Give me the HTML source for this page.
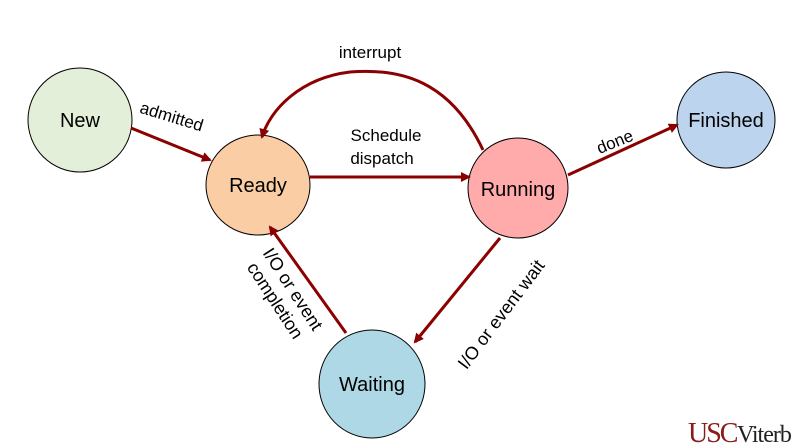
<!DOCTYPE html>
<html><head><style>
html,body{margin:0;padding:0;background:#fff;}
svg{display:block;font-family:"Liberation Sans",Arial,sans-serif;}
</style></head><body>
<svg width="801" height="446" viewBox="0 0 801 446" xmlns="http://www.w3.org/2000/svg">
<defs>
<marker id="a" markerWidth="10" markerHeight="10" refX="8" refY="5" orient="auto" markerUnits="userSpaceOnUse">
<path d="M0,0 L10,5 L0,10 Z" fill="#8b0000"/>
</marker>
</defs>
<g stroke="#000" stroke-width="1">
<ellipse cx="80" cy="120" rx="52" ry="52" fill="#e3efd9"/>
<ellipse cx="258" cy="185" rx="52" ry="50" fill="#fbcda5"/>
<ellipse cx="518" cy="188" rx="50" ry="50" fill="#ffaaab"/>
<ellipse cx="726" cy="120" rx="49" ry="48" fill="#bdd4ef"/>
<ellipse cx="372" cy="384" rx="53" ry="54" fill="#aed8e6"/>
</g>
<g stroke="#8b0000" stroke-width="3" fill="none" marker-end="url(#a)">
<line x1="131" y1="128" x2="210" y2="160"/>
<line x1="310" y1="177" x2="469" y2="177"/>
<line x1="568" y1="175" x2="677" y2="125"/>
<line x1="500" y1="238" x2="415" y2="342"/>
<line x1="346" y1="333" x2="270" y2="227"/>
<path d="M483,150 C450,80 400,68 350,72 C300,78 270,110 262,137"/>
</g>
<g font-size="20" text-anchor="middle" fill="#000">
<text x="80" y="127">New</text>
<text x="258" y="192">Ready</text>
<text x="518" y="196">Running</text>
<text x="726" y="127">Finished</text>
<text x="372" y="391">Waiting</text>
</g>
<g font-size="17" fill="#000" text-anchor="middle">
<text x="370" y="58">interrupt</text>
<text x="386" y="141">Schedule</text>
<text x="382" y="164">dispatch</text>
<text transform="translate(170,122) rotate(17)">admitted</text>
<text transform="translate(617,147) rotate(-22)">done</text>
<text transform="translate(506,318) rotate(-53)" font-size="18">I/O or event wait</text>
<g transform="translate(276,300) rotate(57)" font-size="18">
<text x="0" y="-14">I/O or event</text>
<text x="0" y="7">completion</text>
</g>
</g>
<text x="688" y="442" font-family="Liberation Serif,serif" font-size="28" fill="#8b1a1a" letter-spacing="-2">USC</text>
<text x="737" y="442" font-family="Liberation Serif,serif" font-size="24" fill="#222" letter-spacing="-1">Viterb</text>
</svg>
</body></html>
